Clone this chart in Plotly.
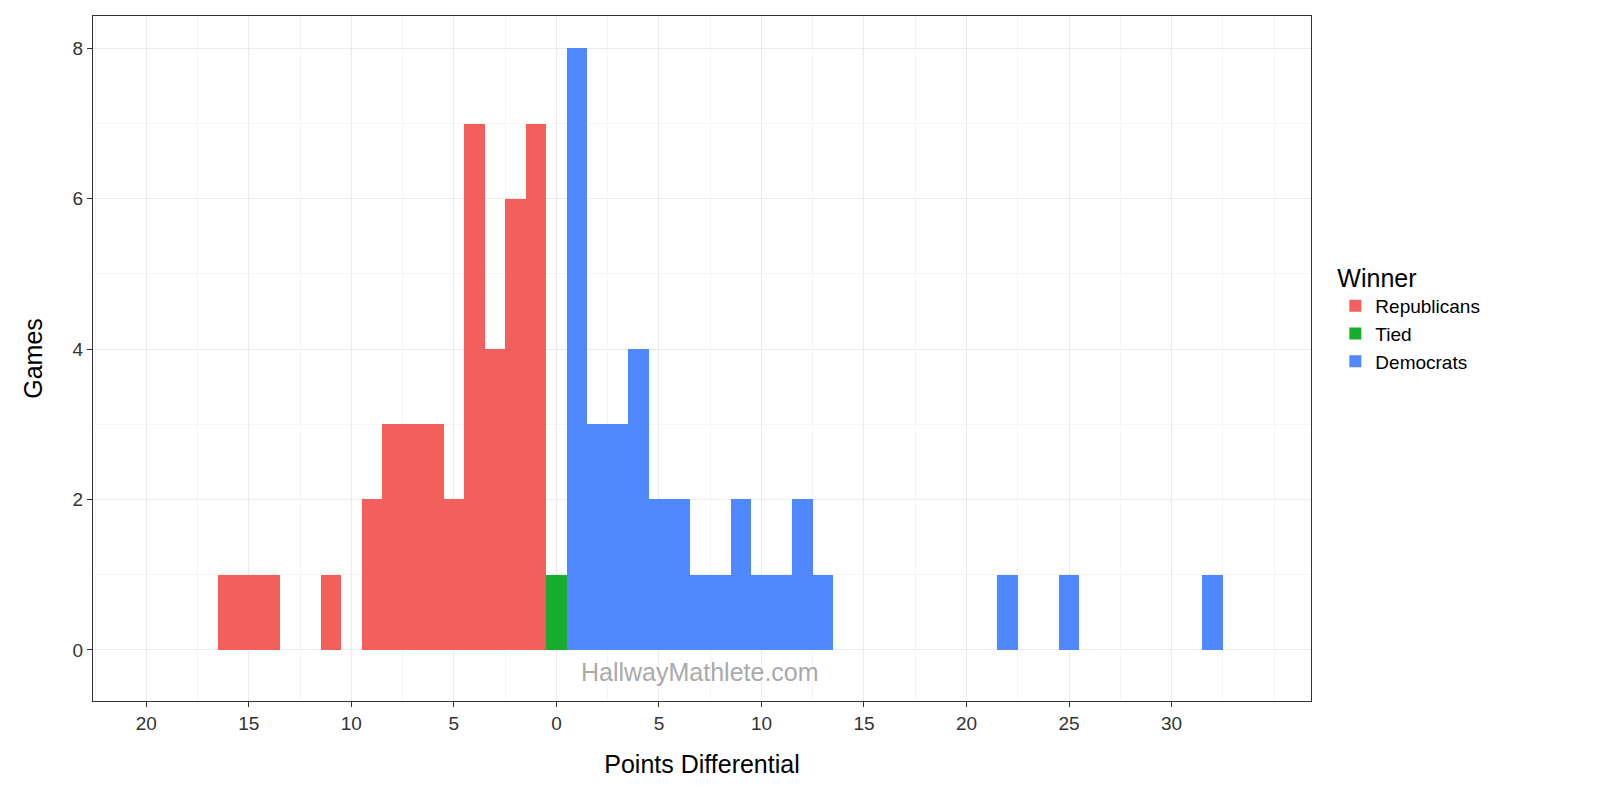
import plotly.graph_objects as go

rep_x = [-16, -15, -14, -11, -9, -8, -7, -6, -5, -4, -3, -2, -1]
rep_y = [1, 1, 1, 1, 2, 3, 3, 3, 2, 7, 4, 6, 7]
tie_x = [0]
tie_y = [1]
dem_x = [1, 2, 3, 4, 5, 6, 7, 8, 9, 10, 11, 12, 13, 22, 25, 32]
dem_y = [8, 3, 3, 4, 2, 2, 1, 1, 2, 1, 1, 2, 1, 1, 1, 1]
tick_vals = [-20, -15, -10, -5, 0, 5, 10, 15, 20, 25, 30]
tick_text = [str(abs(v)) for v in tick_vals]

fig = go.Figure()
for name, xs, ys, c in [("Republicans", rep_x, rep_y, "#F3605B"), ("Tied", tie_x, tie_y, "#17AE2F"), ("Democrats", dem_x, dem_y, "#5089FF")]:
    fig.add_bar(x=xs, y=ys, width=1, name=name, marker=dict(color=c, line=dict(width=0)))

grid = "#EBEBEB"
fig.update_layout(
    width=1600, height=800, plot_bgcolor="white", paper_bgcolor="white",
    margin=dict(l=85, r=297, t=8, b=107), barmode="overlay", bargap=0,
    font=dict(family="Liberation Sans, Arial", size=19, color="black"),
    legend=dict(x=1.02, y=0.56, yanchor="middle", title=dict(text="Winner", font=dict(size=25)),
                font=dict(size=19), itemsizing="constant", tracegroupgap=10),
    xaxis=dict(range=[-22.6, 36.8], tickvals=tick_vals, ticktext=tick_text, showgrid=True, gridcolor=grid,
               minor=dict(dtick=2.5, tick0=-22.5, showgrid=True, gridcolor="#F5F5F5"),
               ticks="outside", ticklen=5, tickcolor="#333", zeroline=False, showline=True, linecolor="#333", mirror=True,
               title=dict(text="Points Differential", font=dict(size=25), standoff=22), tickfont=dict(size=19, color="#333")),
    yaxis=dict(range=[-0.68, 8.43], tickvals=[0, 2, 4, 6, 8], showgrid=True, gridcolor=grid,
               minor=dict(dtick=1, tick0=1, showgrid=True, gridcolor="#F5F5F5"),
               ticks="outside", ticklen=5, tickcolor="#333", zeroline=False, showline=True, linecolor="#333", mirror=True,
               title=dict(text="Games", font=dict(size=25), standoff=22), tickfont=dict(size=19, color="#333")),
)
fig.add_annotation(x=7, y=-0.3, text="HallwayMathlete.com", showarrow=False, font=dict(size=25, color="#AAAAAA"))
fig.write_html("out.html")
